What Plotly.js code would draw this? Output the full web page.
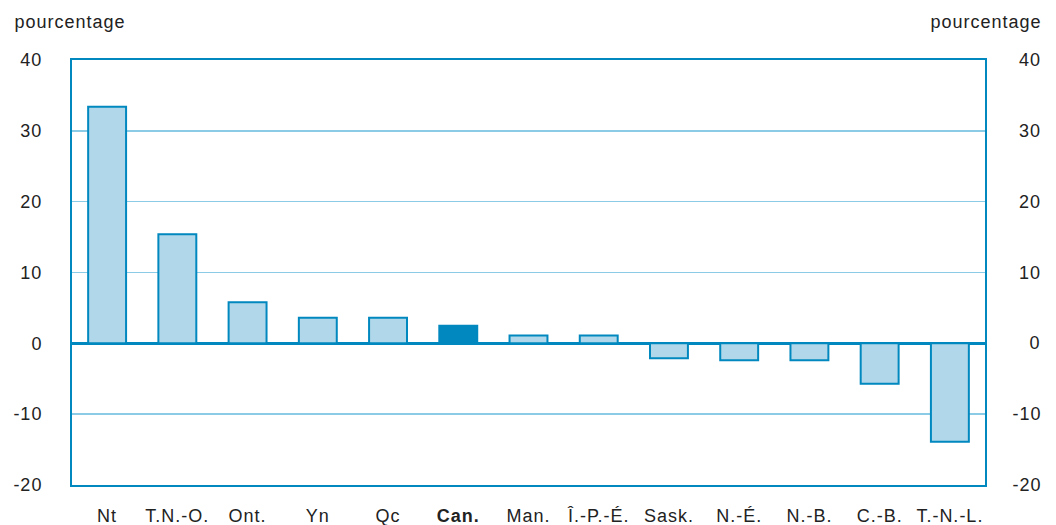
<!DOCTYPE html>
<html>
<head>
<meta charset="utf-8">
<script src="https://cdn.plot.ly/plotly-3.0.1.min.js"></script>
<style>
html,body{margin:0;padding:0;background:#fff;}
#chart{width:1056px;height:525px;}
#chart svg text{letter-spacing:1px;}
</style>
</head>
<body>
<div id="chart"></div>
<script>
const categories = ["Nt","T.N.-O.","Ont.","Yn","Qc","Can.","Man.","Î.-P.-É.","Sask.","N.-É.","N.-B.","C.-B.","T.-N.-L."];
const tickLabels = ["Nt","T.N.-O.","Ont.","Yn","Qc","<b>Can.</b>","Man.","Î.-P.-É.","Sask.","N.-É.","N.-B.","C.-B.","T.-N.-L."];
const values = [33.4, 15.4, 5.8, 3.6, 3.6, 2.5, 1.1, 1.1, -2.1, -2.4, -2.4, -5.7, -13.9];
const yTicks = [-20, -10, 0, 10, 20, 30, 40];
const yTickLabels = ["-20", "-10", "0", "10", "20", "30", "40"];
const yTitle = "pourcentage";

const DARK = "#0088bf";
const LIGHT = "#b0d8ea";
const FONT = "Liberation Sans, Arial, sans-serif";
const TXT = "#222";

const fills = categories.map(c => c === "Can." ? DARK : LIGHT);

const trace = {
  type: "bar",
  x: categories,
  y: values,
  marker: {color: fills, line: {color: DARK, width: 2}},
  hoverinfo: "x+y"
};

const annotations = yTicks.map((v, i) => ({
  xref: "paper", yref: "y", x: 1, y: v,
  xanchor: "right", yanchor: "middle",
  xshift: 57, text: yTickLabels[i], showarrow: false,
  font: {family: FONT, size: 18, color: TXT}
}));
annotations.push({xref: "paper", yref: "paper", x: 0, y: 1, xanchor: "left", yanchor: "bottom",
  xshift: -54, yshift: 26, text: yTitle, showarrow: false, font: {family: FONT, size: 18, color: TXT}});
annotations.push({xref: "paper", yref: "paper", x: 1, y: 1, xanchor: "right", yanchor: "bottom",
  xshift: 53, yshift: 26, text: yTitle, showarrow: false, font: {family: FONT, size: 18, color: TXT}});

const layout = {
  width: 1056, height: 525,
  margin: {l: 72, r: 71, t: 60, b: 40},
  paper_bgcolor: "#fff", plot_bgcolor: "#fff",
  showlegend: false,
  bargap: 0.46,
  font: {family: FONT, size: 18, color: TXT},
  xaxis: {
    type: "category",
    tickvals: categories, ticktext: tickLabels,
    showline: true, mirror: true, linecolor: DARK, linewidth: 2,
    ticks: "", ticklabelstandoff: 13,
    tickfont: {family: FONT, size: 18, color: TXT},
    showgrid: false, fixedrange: true
  },
  yaxis: {
    range: [-20, 40],
    tickvals: yTicks, ticktext: yTickLabels,
    showline: true, mirror: true, linecolor: DARK, linewidth: 2,
    showgrid: true, gridcolor: "#8ccbe6", gridwidth: 1.5,
    zeroline: true, zerolinecolor: DARK, zerolinewidth: 3,
    ticks: "", ticklabelstandoff: 24,
    tickfont: {family: FONT, size: 18, color: TXT},
    fixedrange: true
  },
  annotations: annotations
};

Plotly.newPlot("chart", [trace], layout, {displayModeBar: false, staticPlot: true});
</script>
</body>
</html>
